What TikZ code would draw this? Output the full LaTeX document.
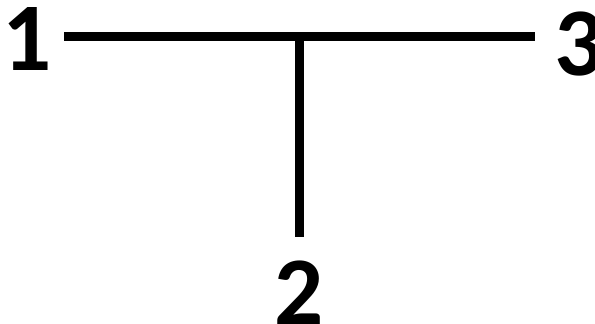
\documentclass[tikz,border=0pt]{standalone}
\usepackage{fontspec}
\setmainfont{Carlito}
\begin{document}
\begin{tikzpicture}[x=1pt,y=-1pt,
  lbl/.style={font=\bfseries\fontsize{97}{97}\selectfont, inner sep=0pt, anchor=center},
  bar/.style={line width=9pt, black}]
\useasboundingbox (0,0) rectangle (595,324);
\node[lbl] (n1) at (27.5,39) {1};
\node[lbl] (n2) at (299,293) {2};
\node[lbl] (n3) at (579,44.5) {3};
\coordinate (L) at (64,36.5);
\coordinate (R) at (535,36.5);
\coordinate (J) at (299,36.5);
\coordinate (B) at (299,237);
\draw[bar] (L) -- (R);
\draw[bar] (J) -- (B);
\end{tikzpicture}
\end{document}
